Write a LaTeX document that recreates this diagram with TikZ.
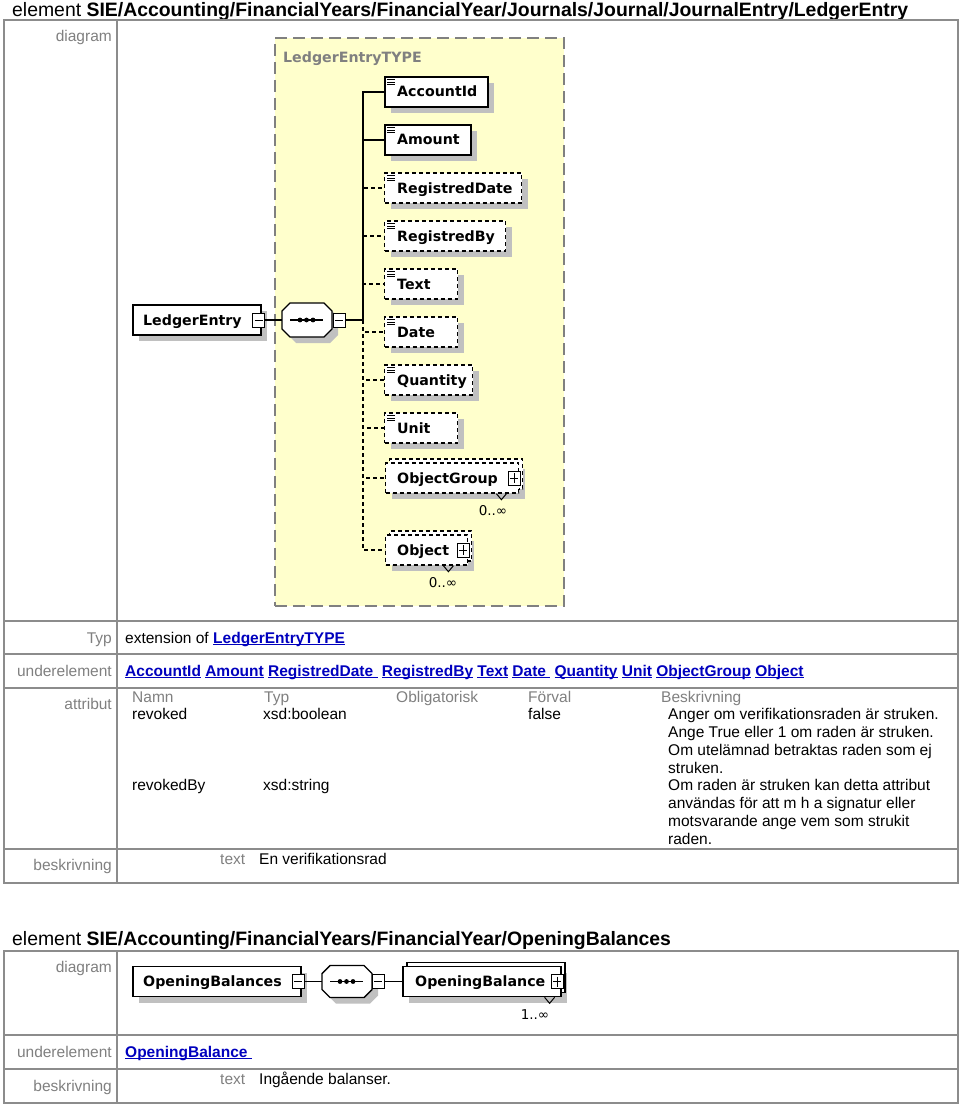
\documentclass[tikz,border=0pt]{standalone}
\usepackage{fontspec}
\setmainfont{Liberation Sans}
\newfontfamily\dvs{DejaVu Sans}
\usetikzlibrary{shadows}
\definecolor{tgray}{RGB}{140,140,140}
\definecolor{lblgray}{RGB}{128,128,128}
\definecolor{lnk}{RGB}{0,0,190}
\definecolor{ylw}{RGB}{255,255,204}
\definecolor{shd}{RGB}{192,192,192}
\newcommand\mylink[1]{\setbox0\hbox{#1}\rlap{\rule[-2.2pt]{\wd0}{1.1pt}}\box0}
\newcommand\eicon[1]{\foreach \dy in {3.5,6,8.5} \draw[line width=0.9pt] ([shift={(3,\dy)}]#1.north west) -- ++(8,0);}
\tikzset{
 tline/.style={draw=tgray, line width=1.6pt},
 lbl/.style={anchor=base east, text=lblgray, font=\fontsize{15.5}{18}\selectfont, inner sep=0},
 txt/.style={anchor=base west, font=\fontsize{15.5}{18}\selectfont, inner sep=0},
 hdr/.style={txt, text=lblgray},
 lnktxt/.style={txt, text=lnk, font=\fontsize{15.5}{18}\selectfont\bfseries},
 ttl/.style={anchor=base west, font=\fontsize{19.4}{22}\selectfont, inner sep=0},
 boxbase/.style={draw=black, line width=1.6pt, fill=white, minimum height=30pt, inner sep=0, anchor=west},
 elem/.style={boxbase, drop shadow={shadow xshift=6pt, shadow yshift=-6pt, fill=shd, opacity=1}},
 dashb/.style={dash pattern=on 4pt off 3pt, line width=1.4pt},
 opt/.style={elem, dashb},
 ename/.style={anchor=base west, font=\dvs\bfseries\fontsize{14.2}{16}\selectfont, inner sep=0},
 mult/.style={font=\dvs\fontsize{13.5}{15}\selectfont, inner sep=0},
 pmbox/.style={draw=black, line width=1pt, fill=white, minimum width=12pt, minimum height=14pt, inner sep=0},
 minusbox/.style={pmbox, path picture={\draw[line width=1pt] ([xshift=2pt]path picture bounding box.west) -- ([xshift=-2pt]path picture bounding box.east);}},
 plusbox/.style={pmbox, path picture={\draw[line width=1pt] ([xshift=2pt]path picture bounding box.west) -- ([xshift=-2pt]path picture bounding box.east); \draw[line width=1pt] ([yshift=-2pt]path picture bounding box.north) -- ([yshift=2pt]path picture bounding box.south);}},
 conn/.style={line width=1.4pt},
 oconn/.style={conn, dash pattern=on 4pt off 3pt},
 octo/.style={draw=black, line width=1.4pt, fill=white, drop shadow={shadow xshift=6pt, shadow yshift=-6pt, fill=shd, opacity=1}},
}
\begin{document}
\begin{tikzpicture}[x=1pt,y=-1pt]
\fill[white] (0,0) rectangle (960,1105);
\useasboundingbox (0,0) rectangle (960,1105);

%% ---------- section 1 ----------
\node[ttl] (t1) at (12,17) {element \textbf{SIE/Accounting/FinancialYears/FinancialYear/Journals/Journal/JournalEntry/LedgerEntry}};
\draw[tline] (4,20) rectangle (958,883);
\draw[tline] (117,20) -- (117,883);
\foreach \yy in {621,654,688,849} \draw[tline] (4,\yy) -- (958,\yy);

\node[lbl] (l1) at (112,42) {diagram};
\node[lbl] (l2) at (112,643) {Typ};
\node[lbl] (l3) at (112,676) {underelement};
\node[lbl] (l4) at (112,709) {attribut};
\node[lbl] (l5) at (112,870) {beskrivning};

% type container
\node[draw=lblgray, dash pattern=on 12pt off 6pt, line width=1.6pt, fill=ylw, minimum width=289pt, minimum height=568pt, inner sep=0, anchor=north west] (ltype) at (274,37) {};
\node[ename, text=lblgray] (ltypelbl) at (283,63) {LedgerEntryTYPE};

% root element
\node[elem, minimum width=128pt] (le) at (132,320) {};
\node[ename] (letxt) at (143,325) {LedgerEntry};
\node[minusbox] (lem) at (258.5,320) {};

% sequence
\node[minimum width=50pt, minimum height=34pt, inner sep=0] (seq) at (307,320) {};
\path[octo] (290,303) -- (324,303) -- (332,311) -- (332,329) -- (324,337) -- (290,337) -- (282,329) -- (282,311) -- cycle;
\draw[line width=1.5pt] (290,320) -- (323,320);
\foreach \dx in {300,306.5,313} \fill (\dx,320) circle (2.4pt);
\node[minusbox] (seqm) at (339,320) {};
\coordinate (jn) at (363,320);

\draw[conn] (lem.east) -- (seq.west);
\draw[conn] (seqm.east) -- (jn);

% children
\node[elem, minimum width=103pt] (c1) at (384,92) {};
\node[ename] (c1t) at (397,97) {AccountId}; \eicon{c1}
\node[elem, minimum width=86pt] (c2) at (384,140) {};
\node[ename] (c2t) at (397,145) {Amount}; \eicon{c2}
\node[opt, minimum width=137pt] (c3) at (384,188) {};
\node[ename] (c3t) at (397,193) {RegistredDate}; \eicon{c3}
\node[opt, minimum width=121pt] (c4) at (384,236) {};
\node[ename] (c4t) at (397,241) {RegistredBy}; \eicon{c4}
\node[opt, minimum width=73pt] (c5) at (384,284) {};
\node[ename] (c5t) at (397,289) {Text}; \eicon{c5}
\node[opt, minimum width=73pt] (c6) at (384,332) {};
\node[ename] (c6t) at (397,337) {Date}; \eicon{c6}
\node[opt, minimum width=88pt] (c7) at (384,380) {};
\node[ename] (c7t) at (397,385) {Quantity}; \eicon{c7}
\node[opt, minimum width=73pt] (c8) at (384,428) {};
\node[ename] (c8t) at (397,433) {Unit}; \eicon{c8}

% ObjectGroup (multiple)
\node[boxbase, dashb, minimum width=133pt, drop shadow={shadow xshift=2pt, shadow yshift=-10pt, fill=shd, opacity=1}] (c9b) at (389,474) {};
\node[boxbase, dashb, minimum width=133pt] (c9) at (385,478) {};
\node[ename] (c9t) at (397,483) {ObjectGroup};
\node[plusbox] (c9p) at (514,478) {};
\draw[line width=1pt] ([shift={(-23,0)}]c9.south east) -- ++(5,6) -- ++(5,-6);
\node[mult] (c9m) at (493,511) {0..∞};

% Object (multiple)
\node[boxbase, dashb, minimum width=82pt, drop shadow={shadow xshift=2pt, shadow yshift=-10pt, fill=shd, opacity=1}] (c10b) at (389,546) {};
\node[boxbase, dashb, minimum width=82pt] (c10) at (385,550) {};
\node[ename] (c10t) at (397,555) {Object};
\node[plusbox] (c10p) at (463,550) {};
\draw[line width=1pt] ([shift={(-25,0)}]c10.south east) -- ++(5,6) -- ++(5,-6);
\node[mult] (c10m) at (443,583) {0..∞};

% connectors to children
\draw[conn] (jn) |- (c1.west);
\draw[conn] (jn) |- (c2.west);
\draw[oconn] (jn) |- (c3.west);
\draw[oconn] (jn) |- (c4.west);
\draw[oconn] (jn) |- (c5.west);
\draw[oconn] (jn) |- (c6.west);
\draw[oconn] (jn) |- (c7.west);
\draw[oconn] (jn) |- (c8.west);
\draw[oconn] (jn) |- (c9.west);
\draw[oconn] (jn) |- (c10.west);

% Typ row
\node[txt] (typtxt) at (125,643) {extension of};
\node[lnktxt] (typlnk) at (213,643) {\mylink{LedgerEntryTYPE}};

% underelement row
\node[lnktxt] (ulinks) at (125,676) {\mylink{AccountId}\ \mylink{Amount}\ \mylink{RegistredDate\ }\ \mylink{RegistredBy}\ \mylink{Text}\ \mylink{Date\ }\ \mylink{Quantity}\ \mylink{Unit}\ \mylink{ObjectGroup}\ \mylink{Object}};

% attribut row
\node[hdr] (h1) at (132,702) {Namn};
\node[hdr] (h2) at (264,702) {Typ};
\node[hdr] (h3) at (396,702) {Obligatorisk};
\node[hdr] (h4) at (528,702) {Förval};
\node[hdr] (h5) at (661,702) {Beskrivning};

\node[txt] (a1n) at (132,719) {revoked};
\node[txt] (a1t) at (263,719) {xsd:boolean};
\node[txt] (a1f) at (528,719) {false};
\node[txt] (a1d1) at (668,719) {Anger om verifikationsraden är struken.};
\node[txt] (a1d2) at (668,737) {Ange True eller 1 om raden är struken.};
\node[txt] (a1d3) at (668,755) {Om utelämnad betraktas raden som ej};
\node[txt] (a1d4) at (668,773) {struken.};

\node[txt] (a2n) at (132,790) {revokedBy};
\node[txt] (a2t) at (263,790) {xsd:string};
\node[txt] (a2d1) at (668,790) {Om raden är struken kan detta attribut};
\node[txt] (a2d2) at (668,808) {användas för att m h a signatur eller};
\node[txt] (a2d3) at (668,826) {motsvarande ange vem som strukit};
\node[txt] (a2d4) at (668,844) {raden.};

% beskrivning row
\node[hdr] (b1k) at (220,864) {text};
\node[txt] (b1v) at (259,864) {En verifikationsrad};

%% ---------- section 2 ----------
\node[ttl] (t2) at (12,945) {element \textbf{SIE/Accounting/FinancialYears/FinancialYear/OpeningBalances}};
\draw[tline] (4,951) rectangle (958,1103);
\draw[tline] (117,951) -- (117,1103);
\foreach \yy in {1035,1069} \draw[tline] (4,\yy) -- (958,\yy);

\node[lbl] (m1) at (112,972) {diagram};
\node[lbl] (m2) at (112,1057) {underelement};
\node[lbl] (m3) at (112,1091) {beskrivning};

\node[elem, minimum width=168pt] (ob) at (132,981.5) {};
\node[ename] (obt) at (143,986.5) {OpeningBalances};
\node[minusbox] (obm) at (298,981.5) {};

\node[minimum width=50pt, minimum height=32pt, inner sep=0] (seq2) at (347,981.5) {};
\path[octo] (330,965.5) -- (364,965.5) -- (372,973.5) -- (372,989.5) -- (364,997.5) -- (330,997.5) -- (322,989.5) -- (322,973.5) -- cycle;
\draw[line width=1.5pt] (330,981.5) -- (363,981.5);
\foreach \dx in {340,346.5,353} \fill (\dx,981.5) circle (2.4pt);
\node[minusbox] (seq2m) at (378,981.5) {};

\node[boxbase, minimum width=158pt, drop shadow={shadow xshift=2pt, shadow yshift=-10pt, fill=shd, opacity=1}] (opbb) at (406,977.5) {};
\node[boxbase, minimum width=158pt] (opb) at (402,981.5) {};
\node[ename] (opbt) at (415,986.5) {OpeningBalance};
\node[plusbox] (opbp) at (557,981.5) {};
\draw[line width=1pt] ([shift={(-17,0)}]opb.south east) -- ++(5,6) -- ++(5,-6);
\node[mult] (opbm) at (535,1015) {1..∞};

\draw[conn] (obm.east) -- (seq2.west);
\draw[conn] (seq2m.east) -- (opb.west);

\node[lnktxt] (ulink2) at (125,1057) {\mylink{OpeningBalance\ }};
\node[hdr] (b2k) at (220,1084) {text};
\node[txt] (b2v) at (259,1084) {Ingående balanser.};
\end{tikzpicture}
\end{document}
